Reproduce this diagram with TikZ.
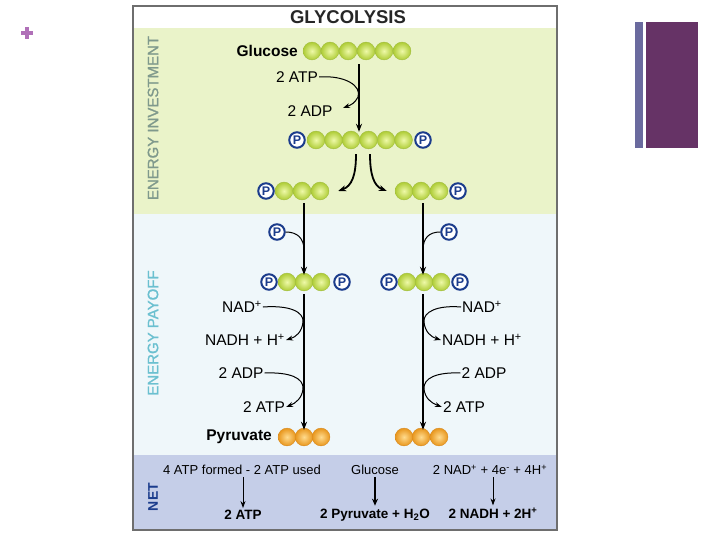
\documentclass[tikz,border=0pt]{standalone}
\usepackage{fontspec}
\setmainfont{Liberation Sans}
\newfontfamily\sidefont[FakeBold=1.3]{Liberation Sans}
\usetikzlibrary{arrows.meta}
\definecolor{investc}{HTML}{EAF3C9}
\definecolor{payoffc}{HTML}{EFF7FA}
\definecolor{netc}{HTML}{C5CEE8}
\definecolor{framec}{HTML}{6E6E6E}
\definecolor{pblue}{HTML}{1B3C8C}
\definecolor{gin}{HTML}{EEF9A8}
\definecolor{gout}{HTML}{AECC36}
\definecolor{gline}{HTML}{A0BC3C}
\definecolor{oin}{HTML}{FFDB8E}
\definecolor{oout}{HTML}{E8961C}
\definecolor{oline}{HTML}{D88A20}
\definecolor{invtext}{HTML}{7F998C}
\definecolor{paytext}{HTML}{6BC0D0}
\definecolor{plusc}{HTML}{B070B8}
\definecolor{barthin}{HTML}{6A6A9E}
\definecolor{barthick}{HTML}{663366}
\newcommand\gball[2]{\shade[inner color=gin,outer color=gout,draw=gline,line width=0.4pt] (#1,#2) circle[radius=8.9pt];}
\newcommand\oball[2]{\shade[inner color=oin,outer color=oout,draw=oline,line width=0.4pt] (#1,#2) circle[radius=8.9pt];}
\tikzset{
  pcirc/.style={circle,draw=pblue,line width=2pt,fill=white,inner sep=0pt,minimum size=15.5pt,text=pblue,font=\fontsize{12.5}{12.5}\selectfont\bfseries},
  chainbox/.style={inner sep=0pt,minimum height=18pt},
  lbl/.style={inner sep=1pt,font=\fontsize{15.5}{17}\selectfont},
  blbl/.style={inner sep=1pt,font=\fontsize{15.5}{17}\selectfont\bfseries},
  netlbl/.style={inner sep=1pt,font=\fontsize{13}{15}\selectfont},
  netb/.style={inner sep=1pt,font=\fontsize{13.5}{15}\selectfont\bfseries},
  mainarr/.style={line width=1.8pt,-{Stealth[length=8pt,width=6pt]}},
  thinarr/.style={line width=1pt,-{Stealth[length=7pt,width=5pt]}},
  sidelbl/.style={rotate=90,inner sep=0pt,font=\sidefont\fontsize{15}{15}\selectfont},
}
\begin{document}
\begin{tikzpicture}[x=1pt,y=-1pt]
\useasboundingbox (0,0) rectangle (720,540);
% bands
\fill[white] (133,6) rectangle (557,28);
\fill[investc] (133,28) rectangle (557,214);
\fill[payoffc] (133,214) rectangle (557,455);
\fill[netc] (133,455) rectangle (557,530);
\draw[framec,line width=1.2pt] (133,6) rectangle (557,530);
% slide decorations
\fill[plusc] (20.5,31) rectangle (32.5,35);
\fill[plusc] (24.5,27) rectangle (28.5,39);
\fill[barthin] (635,22) rectangle (643,148);
\fill[barthick] (646,22) rectangle (698,148);
% title and side labels
\node[font=\fontsize{18.5}{20}\selectfont\bfseries,text=black!85] (title) at (348,17) {GLYCOLYSIS};
\node[sidelbl,text=invtext] (inv) at (153,118) {ENERGY INVESTMENT};
\node[sidelbl,text=paytext] (pay) at (153,333) {ENERGY PAYOFF};
\node[sidelbl,text=pblue,font=\fontsize{14}{14}\selectfont\bfseries] (netlab) at (153,497) {NET};
% glucose
\foreach \x in {312,330,348,366,384,402} {\gball{\x}{51}}
\node[chainbox,minimum width=108pt] (glc) at (359,51) {};
\node[blbl,anchor=east] (glcl) at (299,51) {Glucose};
\node[lbl] (atp1) at (297,77) {2 ATP};
\node[lbl] (adp1) at (310,111) {2 ADP};
% fructose bisphosphate
\foreach \x in {316,333.5,351,368.5,386,403.5} {\gball{\x}{140}}
\node[pcirc] (p1) at (297,140) {P};
\node[pcirc] (p2) at (423,140) {P};
\node[chainbox,minimum width=105pt] (fbp) at (359,140) {};
\draw[mainarr] ([yshift=-4pt]glc.south) -- ([yshift=-1pt]fbp.north);
\draw[line width=1pt] (atp1.east) .. controls (345,75) and (362,86) .. (358,97);
\draw[thinarr] (358,97) .. controls (355,103) and (351,105) .. (343,108);
% split
\foreach \x in {284,302,320} {\gball{\x}{191}}
\foreach \x in {404,421,439} {\gball{\x}{191}}
\node[pcirc] (p3) at (266,191) {P};
\node[pcirc] (p4) at (458,191) {P};
\node[chainbox,minimum width=54pt] (g3l) at (303,191) {};
\node[chainbox,minimum width=54pt] (g3r) at (422,191) {};
\draw[line width=1.8pt,-{Stealth[length=8pt,width=6pt]}] ([xshift=-3pt,yshift=-5pt]fbp.south) .. controls (356,175) and (352,186) .. ([xshift=8pt]g3l.east);
\draw[line width=1.8pt,-{Stealth[length=8pt,width=6pt]}] ([xshift=11pt,yshift=-5pt]fbp.south) .. controls (370,175) and (374,186) .. ([xshift=-8pt]g3r.west);
% payoff phosphates
\node[pcirc] (p5) at (277,232) {P};
\node[pcirc] (p6) at (449,232) {P};
% bisphosphoglycerate
\foreach \x in {287,304,321} {\gball{\x}{282}}
\foreach \x in {407,424,441} {\gball{\x}{282}}
\node[pcirc] (p7) at (269,282) {P};
\node[pcirc] (p8) at (342,282) {P};
\node[pcirc] (p9) at (389,282) {P};
\node[pcirc] (p10) at (460,282) {P};
\node[chainbox,minimum width=54pt] (bpl) at (304,282) {};
\node[chainbox,minimum width=54pt] (bpr) at (423,282) {};
\draw[mainarr] ([yshift=-3pt]g3l.south -| bpl.north) -- ([yshift=-2pt]bpl.north);
\draw[mainarr] ([yshift=-3pt]g3r.south -| bpr.north) -- ([yshift=-2pt]bpr.north);
\draw[line width=1pt] (p5.east) .. controls (297,232) and (304,238) .. (304,250);
\draw[line width=1pt] (p6.west) .. controls (429,232) and (423,238) .. (423,250);
% pyruvate
\foreach \x in {287,304,321} {\oball{\x}{437}}
\foreach \x in {404,421,439} {\oball{\x}{437}}
\node[chainbox,minimum width=54pt] (pyl) at (304,437) {};
\node[chainbox,minimum width=54pt] (pyr) at (423,437) {};
\node[blbl,anchor=east] (pyrl) at (273,437) {Pyruvate};
\draw[mainarr] ([yshift=-3pt]bpl.south) -- ([yshift=-2pt]pyl.north);
\draw[mainarr] ([yshift=-3pt]bpr.south) -- ([yshift=-2pt]pyr.north);
% left side labels
\node[lbl] (nadl) at (242,307) {NAD\textsuperscript{+}};
\node[lbl] (nadhl) at (245,340) {NADH + H\textsuperscript{+}};
\node[lbl] (adpl) at (241,373) {2 ADP};
\node[lbl] (atpl) at (264,407) {2 ATP};
\draw[line width=1pt] (nadl.east) .. controls (290,305) and (304,312) .. (303,322);
\draw[thinarr] (303,322) .. controls (302,332) and (296,337) .. (nadhl.east);
\draw[line width=1pt] (adpl.east) .. controls (290,372) and (304,378) .. (303,389);
\draw[thinarr] (303,389) .. controls (302,398) and (296,403) .. (atpl.east);
% right side labels
\node[lbl] (nadr) at (482,307) {NAD\textsuperscript{+}};
\node[lbl] (nadhr) at (482,340) {NADH + H\textsuperscript{+}};
\node[lbl] (adpr) at (484,373) {2 ADP};
\node[lbl] (atpr) at (464,407) {2 ATP};
\draw[line width=1pt] (nadr.west) .. controls (437,305) and (423,312) .. (424,322);
\draw[thinarr] (424,322) .. controls (425,332) and (431,337) .. (nadhr.west);
\draw[line width=1pt] (adpr.west) .. controls (437,372) and (423,378) .. (424,389);
\draw[thinarr] (424,389) .. controls (425,398) and (431,403) .. (atpr.west);
% net
\node[netlbl] (n1) at (242,470) {4 ATP formed - 2 ATP used};
\node[netlbl] (n2) at (375,470) {Glucose};
\node[netlbl] (n3) at (490,470) {2 NAD\textsuperscript{+} + 4e\textsuperscript{-} + 4H\textsuperscript{+}};
\node[netb] (m1) at (243,515) {2 ATP};
\node[netb] (m2) at (375,515) {2 Pyruvate + H\textsubscript{2}O};
\node[netb] (m3) at (493,513) {2 NADH + 2H\textsuperscript{+}};
\draw[thinarr] ([xshift=1pt,yshift=-1pt]n1.south) -- ([yshift=1pt]m1.north);
\draw[line width=1.8pt,-{Stealth[length=7pt,width=6pt]}] ([yshift=-1pt]n2.south) -- ([yshift=2pt]m2.north);
\draw[thinarr] ([xshift=3pt,yshift=-1pt]n3.south) -- ([yshift=1pt]m3.north);
\end{tikzpicture}
\end{document}
